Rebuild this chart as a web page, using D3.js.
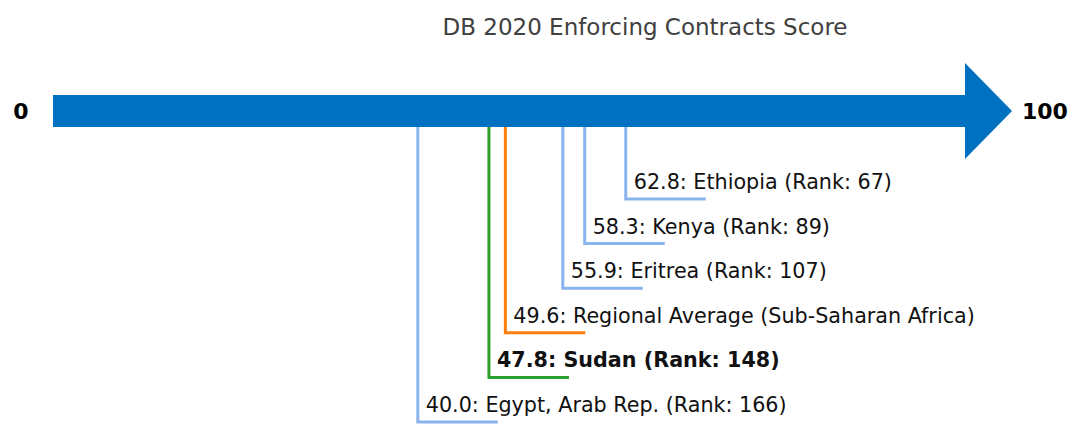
<!DOCTYPE html>
<html>
<head>
<meta charset="utf-8">
<script src="https://cdn.jsdelivr.net/npm/d3@7"></script>
<style>
  body { margin: 0; background: #fff; }
  svg { display: block; font-family: "DejaVu Sans", sans-serif; }
</style>
</head>
<body>
<svg class="chart"></svg>
<script>
// scores, top label first
const names = ["Ethiopia", "Kenya", "Eritrea", "Regional Average (Sub-Saharan Africa)", "Sudan", "Egypt, Arab Rep."];
const scores = [62.8, 58.3, 55.9, 49.6, 47.8, 40.0];
const ranks = [67, 89, 107, null, 148, 166];
const kinds = ["peer", "peer", "peer", "region", "focus", "peer"];
const axisLabels = ["0", "100"];
const title = "DB 2020 Enforcing Contracts Score";

const size = { w: 1072, h: 424 };
const svg = d3.select("svg.chart").attr("width", size.w).attr("height", size.h);
const g = svg.append("g");

const xScale = d3.scaleLinear().domain([0, 100]).range([53, 965]);
const yScale = d3.scalePoint().domain(d3.range(names.length)).range([199, 422]);

const colorByKind = { peer: "#8ab4ee", region: "#ff7f0e", focus: "#2ca02c" };

const barTop = 95, barBottom = 127, headTop = 63, headBottom = 159, headTip = 1012;
const midY = (barTop + barBottom) / 2;

// title
g.append("text")
  .attr("x", 645)
  .attr("y", 35)
  .attr("text-anchor", "middle")
  .attr("font-size", 23)
  .attr("fill", "#404040")
  .text(title);

// arrow shaft + head
g.append("rect")
  .attr("x", xScale(0))
  .attr("y", barTop)
  .attr("width", xScale(100) - xScale(0))
  .attr("height", barBottom - barTop)
  .attr("fill", "#0070c0");

g.append("path")
  .attr("d", d3.line()([[xScale(100), headTop], [headTip, midY], [xScale(100), headBottom]]) + "Z")
  .attr("fill", "#0070c0");

// end labels
g.append("text")
  .attr("x", 21)
  .attr("y", midY)
  .attr("dy", "0.36em")
  .attr("text-anchor", "middle")
  .attr("font-size", 22)
  .attr("font-weight", "bold")
  .text(axisLabels[0]);

g.append("text")
  .attr("x", 1022)
  .attr("y", midY)
  .attr("dy", "0.36em")
  .attr("font-size", 22)
  .attr("font-weight", "bold")
  .text(axisLabels[1]);

// leader lines
const data = names.map((n, i) => ({ name: n, score: scores[i], rank: ranks[i], kind: kinds[i], i: i }));

const leaders = g.selectAll("g.leader")
  .data(data)
  .join("g")
  .attr("class", "leader");

leaders.append("path")
  .attr("d", (d) => d3.line()([
    [xScale(d.score), barBottom],
    [xScale(d.score), yScale(d.i)],
    [xScale(d.score) + 80, yScale(d.i)]
  ]))
  .attr("fill", "none")
  .attr("stroke", (d) => colorByKind[d.kind])
  .attr("stroke-width", 3);

leaders.append("text")
  .attr("x", (d) => xScale(d.score) + 8)
  .attr("y", (d) => yScale(d.i) - 10)
  .attr("font-size", 20.7)
  .attr("font-weight", (d) => d.kind === "focus" ? "bold" : "normal")
  .attr("fill", "#111")
  .text((d) => d.score.toFixed(1) + ": " + d.name + (d.rank ? " (Rank: " + d.rank + ")" : ""));
</script>
</body>
</html>
